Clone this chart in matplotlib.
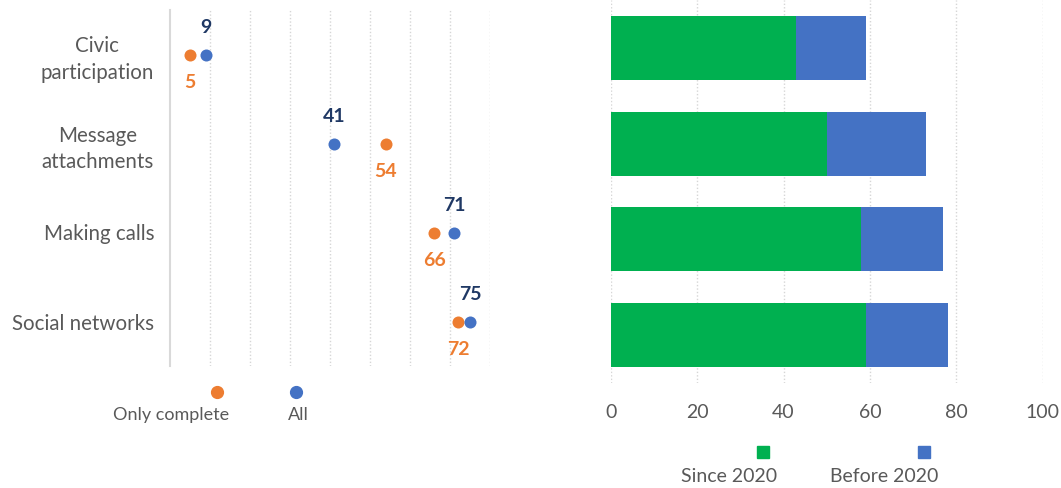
import numpy as np
import matplotlib.pyplot as plt
from matplotlib.lines import Line2D

## data
categories = ['Civic\nparticipation', 'Message\nattachments', 'Making calls', 'Social networks']
only_complete = [5, 54, 66, 72]
all_users = [9, 41, 71, 75]
since_2020 = [43, 50, 58, 59]
before_2020 = [16, 23, 19, 19]

## colours
orange = '#ED7D31'
blue = '#4472C4'
navy = '#1F3864'
green = '#00B050'
gray_text = '#595959'
grid_col = '#D6D6D6'

plt.rcParams['font.family'] = ['Lato', 'DejaVu Sans']

fig = plt.figure(figsize=(10.61, 4.88), dpi=100)
W, H = 1061, 488

## left panel: dot plot
ax1 = fig.add_axes([170 / W, 1 - 366 / H, 320 / W, 356 / H])
y = np.arange(len(categories))
ax1.scatter(only_complete, y, s=75, color=orange, zorder=3, linewidths=0)
ax1.scatter(all_users, y, s=75, color=blue, zorder=3, linewidths=0)
for yi, v in zip(y, all_users):
    ax1.annotate(str(v), (v, yi), xytext=(0, 19.5), textcoords='offset points',
                 ha='center', va='center', fontsize=14, fontweight='bold', color=navy)
for yi, v in zip(y, only_complete):
    ax1.annotate(str(v), (v, yi), xytext=(0, -20), textcoords='offset points',
                 ha='center', va='center', fontsize=14, fontweight='bold', color=orange)
ax1.set_xlim(0, 80)
ax1.set_ylim(3.5, -0.5)
ax1.set_xticks(np.arange(10, 81, 10))
ax1.tick_params(axis='x', length=0, labelbottom=False)
ax1.grid(axis='x', color=grid_col, linestyle=(0, (1, 1.5)), linewidth=1)
ax1.set_yticks(y)
ax1.set_yticklabels(categories, fontsize=14.8, color=gray_text, multialignment='center', linespacing=1.4)
ax1.tick_params(axis='y', length=0, pad=11.5)
for s in ['top', 'right', 'bottom']:
    ax1.spines[s].set_visible(False)
ax1.spines['left'].set_color('#D9D9D9')
ax1.spines['left'].set_linewidth(1.5)

## right panel: stacked bars
ax2 = fig.add_axes([610.7 / W, 1 - 383 / H, 432 / W, 383 / H])
yb = np.arange(len(categories))
ax2.barh(yb, since_2020, height=0.67, color=green, zorder=3)
ax2.barh(yb, before_2020, left=since_2020, height=0.67, color=blue, zorder=3)
ax2.set_xlim(0, 100)
ax2.set_ylim(3.5, -0.5)
ax2.set_xticks(np.arange(0, 101, 20))
ax2.tick_params(axis='x', length=0, labelsize=14, labelcolor=gray_text, pad=15)
ax2.set_yticks([])
ax2.grid(axis='x', color=grid_col, linestyle=(0, (1, 1.5)), linewidth=1)
for s in ax2.spines.values():
    s.set_visible(False)

## legends (marker above text, as in the source)
fig.add_artist(Line2D([216.7 / W], [1 - 392 / H], marker='o', markersize=8.5, color=orange,
                      linestyle='none', transform=fig.transFigure))
fig.add_artist(Line2D([296 / W], [1 - 392 / H], marker='o', markersize=8.5, color=blue,
                      linestyle='none', transform=fig.transFigure))
fig.text(171 / W, 1 - 415 / H, 'Only complete', ha='center', va='center', fontsize=13, color=gray_text)
fig.text(298 / W, 1 - 415 / H, 'All', ha='center', va='center', fontsize=13, color=gray_text)

fig.add_artist(Line2D([763 / W], [1 - 452 / H], marker='s', markersize=9, color=green,
                      linestyle='none', transform=fig.transFigure))
fig.add_artist(Line2D([924 / W], [1 - 452 / H], marker='s', markersize=9, color=blue,
                      linestyle='none', transform=fig.transFigure))
fig.text(729.5 / W, 1 - 477 / H, 'Since 2020', ha='center', va='center', fontsize=14, color=gray_text)
fig.text(884 / W, 1 - 477 / H, 'Before 2020', ha='center', va='center', fontsize=14, color=gray_text)

fig.savefig('out.png', dpi=100)
